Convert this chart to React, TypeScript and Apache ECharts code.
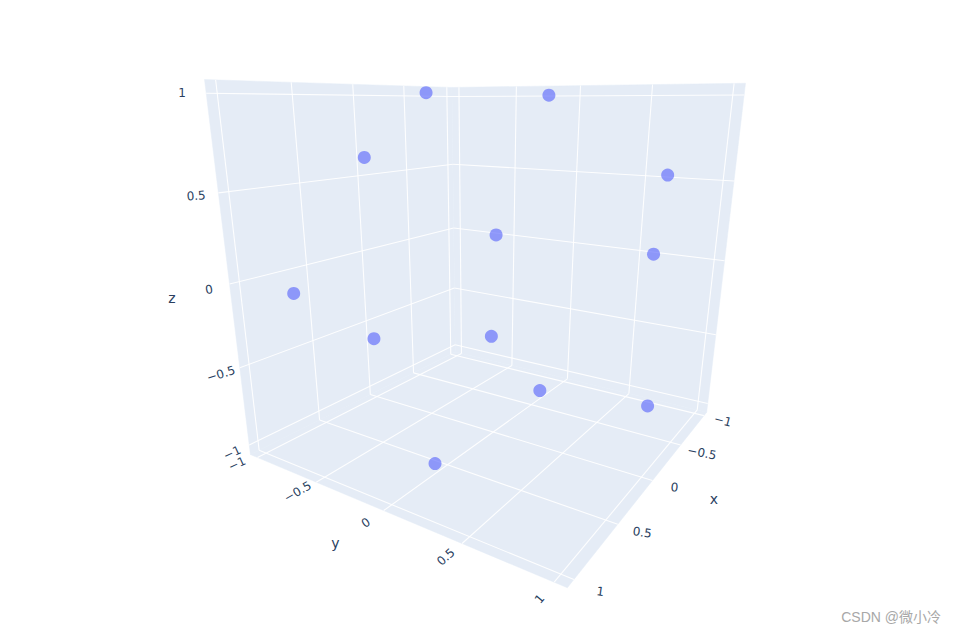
import React, { useEffect, useRef } from "react";
import * as echarts from "echarts";

// ---- data (an icosahedron's twelve vertices) ----
const xValues = [0.62, -0.62, 0, 0, -1, -1, 1, 1, 0, 0, -0.62, 0.62];
const yValues = [0, 0, -1, 1, -0.62, 0.62, -0.62, 0.62, -1, 1, 0, 0];
const zValues = [1, 1, 0.62, 0.62, 0, 0, 0, 0, -0.62, -0.62, -1, -1];
const tickValues = [-1, -0.5, 0, 0.5, 1];
const tickLabels = ["−1", "−0.5", "0", "0.5", "1"];

// ---- layout ----
const W = 956;
const H = 634;
const R = 1.065; // axis range half-width
const TEXT = "#2a3f5f";
const WALL = "#e5ecf6";
const PIXEL_CENTRE = 0.5; // measured pixel indices -> continuous coordinates

// camera calibration: scene coordinates -> pixels measured on the box
const calibration: number[][] = [
  [R, -R, R, 204.3, 79.3],
  [-R, -R, R, 452, 87],
  [-R, R, R, 745, 82.7],
  [R, -R, -R, 249.3, 454],
  [-R, -R, -R, 455, 351],
  [-R, R, -R, 706.7, 413.3],
  [R, R, -R, 566.7, 586.7],
  [R, -R, 1, 205.7, 92.3],
  [R, -R, 0.5, 217.7, 192.3],
  [R, -R, 0, 228.7, 283.3],
  [R, -R, -0.5, 239.3, 367.3],
  [R, -R, -1, 248.3, 444.3],
  [0, -R, 0.5, 357.3, 175.7],
  [0, -R, 0, 361.7, 251],
  [0.5, -R, 0.5, 298.7, 183.3],
  [-0.5, -R, 0.5, 406.7, 169],
  [-R, -0.5, 0.5, 514.3, 167.3],
  [-R, 0, 0.5, 576.3, 170.7],
  [-R, 0.5, 0.5, 645.3, 175.3],
  [-R, 1, 0.5, 723, 179.3],
  [-R, 0, 0, 573.3, 242],
  [-R, 0.5, 0, 636.7, 250.3],
  [-R, 1, 0, 714.3, 259],
  [R, -0.5, -R, 316.7, 481.7],
  [R, 0, -R, 383.3, 510],
  [R, 0.5, -R, 461.7, 543.3],
  [R, 1, -R, 555, 581.7],
  [-0.5, R, -R, 680, 443.3],
  [0, R, -R, 651.7, 480],
  [0.5, R, -R, 616.7, 524],
];

// label offsets from the projected tick [dx, dy, rotation in degrees]
const xLabelLayout = [[18.9, 5, -15], [21.2, 7.9, -11], [22.1, 6.8, -6], [24.5, 8.2, -8], [26.5, 12.2, -8]];
const yLabelLayout = [[-20.5, 6.5, 25], [-18.5, 9.5, 30], [-17.8, 12.2, 35], [-16.2, 13.5, 42], [-14.5, 16.8, 50]];
const zLabelLayout = [[-17.1, 7.9, 25], [-18.8, 6.2, 17], [-20.5, 5.5, 10], [-22.2, 2.9, 4], [-24.2, -0.5, 0]];
const axisTitles: [string, number, number][] = [["x", 714, 498.5], ["y", 335.3, 543], ["z", 172, 298]];

function solveCamera(): number[] {
  const s = 500;
  const n = 11;
  const A: number[][] = Array.from({ length: n }, () => new Array(n + 1).fill(0));
  const add = (row: number[], b: number) => {
    for (let i = 0; i < n; i++) {
      for (let j = 0; j < n; j++) A[i][j] += row[i] * row[j];
      A[i][n] += row[i] * b;
    }
  };
  for (const [X, Y, Z, px, py] of calibration) {
    const u = (px + PIXEL_CENTRE) / s;
    const v = (py + PIXEL_CENTRE) / s;
    add([X, Y, Z, 1, 0, 0, 0, 0, -u * X, -u * Y, -u * Z], u);
    add([0, 0, 0, 0, X, Y, Z, 1, -v * X, -v * Y, -v * Z], v);
  }
  for (let c = 0; c < n; c++) {
    let p = c;
    for (let r = c + 1; r < n; r++) if (Math.abs(A[r][c]) > Math.abs(A[p][c])) p = r;
    [A[c], A[p]] = [A[p], A[c]];
    for (let r = 0; r < n; r++) {
      if (r === c) continue;
      const f = A[r][c] / A[c][c];
      for (let k = c; k <= n; k++) A[r][k] -= f * A[c][k];
    }
  }
  return A.map((row, i) => row[n] / row[i]);
}

const cam = solveCamera();
function project(X: number, Y: number, Z: number): [number, number] {
  const w = cam[8] * X + cam[9] * Y + cam[10] * Z + 1;
  return [
    (500 * (cam[0] * X + cam[1] * Y + cam[2] * Z + cam[3])) / w,
    (500 * (cam[4] * X + cam[5] * Y + cam[6] * Z + cam[7])) / w,
  ];
}

function App() {
  const ref = useRef<HTMLDivElement | null>(null);
  useEffect(() => {
    const chart = echarts.init(ref.current!, null, { renderer: "svg" });
    const points = xValues.map((x, i) => project(x, yValues[i], zValues[i]));

    const renderScene = (_p: any, api: any) => {
      const c = (X: number, Y: number, Z: number) => api.coord(project(X, Y, Z));
      const wall = (pts: number[][]) => ({
        type: "polygon",
        shape: { points: pts },
        style: { fill: WALL, stroke: WALL, lineWidth: 0.5 },
      });
      const seg = (a: number[], b: number[]) => ({
        type: "line",
        shape: { x1: a[0], y1: a[1], x2: b[0], y2: b[1] },
        style: { stroke: "#ffffff", lineWidth: 1.1, opacity: 0.92, fill: "none" },
      });
      const text = (t: string, p: number[], rotDeg: number, font: string) => ({
        type: "text",
        x: p[0],
        y: p[1],
        rotation: (rotDeg * Math.PI) / 180,
        style: { text: t, fill: TEXT, font, textAlign: "center", textVerticalAlign: "middle" },
      });
      const children: any[] = [
        wall([c(R, -R, R), c(-R, -R, R), c(-R, -R, -R), c(R, -R, -R)]),
        wall([c(-R, -R, R), c(-R, R, R), c(-R, R, -R), c(-R, -R, -R)]),
        wall([c(R, -R, -R), c(-R, -R, -R), c(-R, R, -R), c(R, R, -R)]),
      ];
      const tickFont = "12px 'DejaVu Sans'";
      tickValues.forEach((t) => {
        // left wall (y = -R)
        children.push(seg(c(t, -R, -R), c(t, -R, R)));
        children.push(seg(c(R, -R, t), c(-R, -R, t)));
        // right wall (x = -R)
        children.push(seg(c(-R, t, -R), c(-R, t, R)));
        children.push(seg(c(-R, -R, t), c(-R, R, t)));
        // floor (z = -R)
        children.push(seg(c(t, -R, -R), c(t, R, -R)));
        children.push(seg(c(-R, t, -R), c(R, t, -R)));
      });
      tickValues.forEach((t, i) => {
        const xp = c(t, R, -R);
        const yp = c(R, t, -R);
        const zp = c(R, -R, t);
        const xl = xLabelLayout[i];
        const yl = yLabelLayout[i];
        const zl = zLabelLayout[i];
        children.push(text(tickLabels[i], [xp[0] + xl[0], xp[1] + xl[1]], xl[2], tickFont));
        children.push(text(tickLabels[i], [yp[0] + yl[0], yp[1] + yl[1]], yl[2], tickFont));
        children.push(text(tickLabels[i], [zp[0] + zl[0], zp[1] + zl[1]], zl[2], tickFont));
      });
      axisTitles.forEach(([t, px, py]) => {
        children.push(text(t, api.coord([px, py]), 0, "14px 'DejaVu Sans'"));
      });
      return { type: "group", children };
    };

    chart.setOption({
      animation: false,
      backgroundColor: "#ffffff",
      grid: { left: 0, right: 0, top: 0, bottom: 0 },
      xAxis: { type: "value", min: 0, max: W, show: false },
      yAxis: { type: "value", min: 0, max: H, inverse: true, show: false },
      graphic: [
        {
          type: "text",
          right: 15,
          top: 610,
          style: {
            text: "CSDN @微小冷",
            fill: "#a8a8a8",
            font: "14px 'Liberation Sans', 'Noto Sans CJK SC'",
          },
          silent: true,
        },
      ],
      series: [
        {
          type: "custom",
          name: "scene",
          silent: true,
          clip: false,
          data: [[0, 0]],
          z: 1,
          renderItem: renderScene,
        },
        {
          type: "scatter",
          name: "trace 0",
          data: points,
          symbol: "circle",
          symbolSize: 13,
          silent: true,
          z: 2,
          itemStyle: { color: "#636efa", opacity: 0.68 },
        },
      ],
    });
    return () => chart.dispose();
  }, []);
  return <div ref={ref} style={{ position: "absolute", left: 0, top: 0, width: W, height: H }} />;
}

export default App;
